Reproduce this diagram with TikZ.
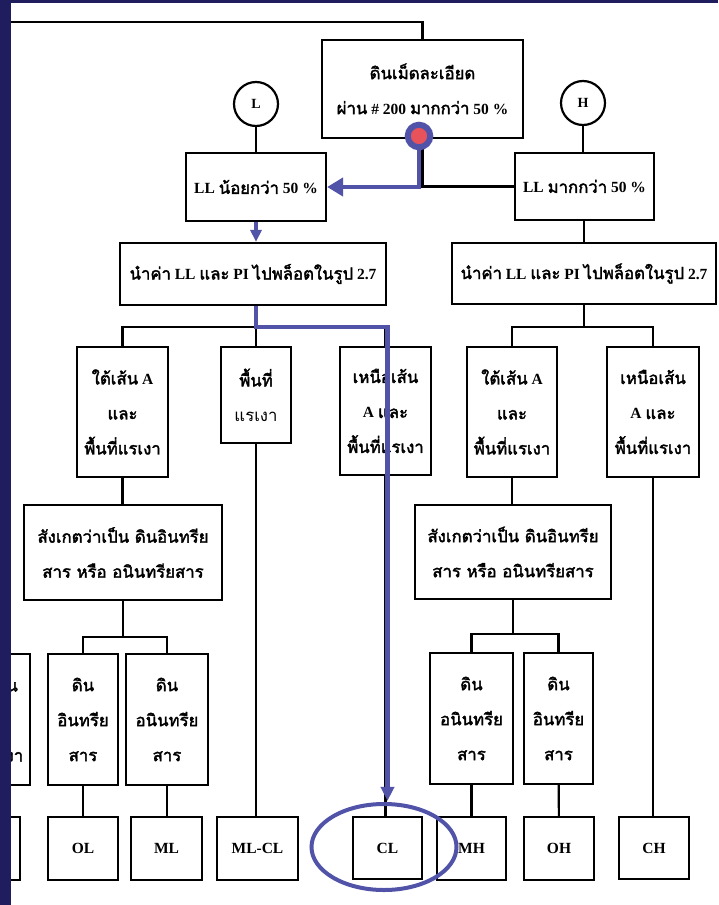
\documentclass[tikz,border=0pt]{standalone}
\usepackage{fontspec}
\setmainfont{Liberation Serif}
\newfontfamily\thaifont[Script=Thai,Scale=1.08,BoldFont=Loma,BoldFeatures={FakeBold=2.2}]{Loma}
\usetikzlibrary{arrows.meta,shapes.geometric}
\definecolor{FrameNavy}{HTML}{201D5E}
\definecolor{RouteBlue}{HTML}{5053A8}
\definecolor{PinRed}{HTML}{E8525A}
\newcommand{\thai}[1]{{\thaifont #1}}

\begin{document}
\begin{tikzpicture}[
    x=1pt,y=-1pt,
    font=\bfseries\fontsize{15.5}{35}\selectfont,
    box/.style={draw,line width=2.2pt,inner sep=0pt,align=center},
    tag/.style={draw,circle,line width=2.2pt,minimum size=44pt,inner sep=0pt,font=\bfseries\fontsize{14}{16}\selectfont},
    link/.style={line width=2.2pt},
    route/.style={draw=RouteBlue,line width=4.5pt},
    pin/.style={circle,fill=PinRed,draw=RouteBlue,line width=6pt,minimum size=22.5pt,inner sep=0pt},
    hit/.style={ellipse,draw=RouteBlue,line width=4pt,minimum width=145pt,minimum height=86pt}
  ]
  \useasboundingbox (0,0) rectangle (718,905);
  \fill[white] (0,0) rectangle (718,905);

  % fine grained split
  \node[box,minimum width=201pt,minimum height=98pt] (fine) at (422.5,89) {\thai{ดินเม็ดละเอียด}\\\thai{ผ่าน} \# 200 \thai{มากกว่า} 50 \%};
  \node[tag] (L) at (256,104) {L};
  \node[tag] (H) at (583,103) {H};
  \node[box,minimum width=140pt,minimum height=68pt] (lowLL) at (256,187) {LL \thai{น้อยกว่า} 50 \%};
  \node[box,minimum width=139pt,minimum height=67pt] (highLL) at (584.5,186.5) {LL \thai{มากกว่า} 50 \%};
  \node[box,minimum width=266pt,minimum height=62pt] (plotL) at (253,274) {\thai{นำค่า} LL \thai{และ} PI \thai{ไปพล็อตในรูป} 2.7};
  \node[box,minimum width=264pt,minimum height=61pt] (plotH) at (584,273.5) {\thai{นำค่า} LL \thai{และ} PI \thai{ไปพล็อตในรูป} 2.7};

  % chart zones
  \node[box,minimum width=91pt,minimum height=130pt] (belowL) at (122.5,412) {\thai{ใต้เส้น} A\\\thai{และ}\\\thai{พื้นที่แรเงา}};
  \node[box,minimum width=70pt,minimum height=96pt] (shadeL) at (256,395) {\thai{พื้นที่}\\{\mdseries\thai{แรเงา}}};
  \node[box,minimum width=91pt,minimum height=128pt] (aboveL) at (385.5,411) {\thai{เหนือเส้น}\\A \thai{และ}\\\thai{พื้นที่แรเงา}};
  \node[box,minimum width=90pt,minimum height=130pt] (belowH) at (512,412) {\thai{ใต้เส้น} A\\\thai{และ}\\\thai{พื้นที่แรเงา}};
  \node[box,minimum width=92pt,minimum height=130pt] (aboveH) at (653,412) {\thai{เหนือเส้น}\\A \thai{และ}\\\thai{พื้นที่แรเงา}};

  \node[box,minimum width=198pt,minimum height=95pt] (checkL) at (123,552.5) {\thai{สังเกตว่าเป็น ดินอินทรีย}\\\thai{สาร หรือ อนินทรียสาร}};
  \node[box,minimum width=196pt,minimum height=94pt] (checkH) at (513,552) {\thai{สังเกตว่าเป็น ดินอินทรีย}\\\thai{สาร หรือ อนินทรียสาร}};

  \node[box,minimum width=90pt,minimum height=131pt] (edgeUp) at (-15,719.5) {\thai{เหนือเส้น}\\A \thai{และ}\\\thai{พื้นที่แรเงา}};
  \node[box,minimum width=70pt,minimum height=131pt] (orgL) at (83,719.5) {\thai{ดิน}\\\thai{อินทรีย}\\\thai{สาร}};
  \node[box,minimum width=82pt,minimum height=131pt] (inorgL) at (167,719.5) {\thai{ดิน}\\\thai{อนินทรีย}\\\thai{สาร}};
  \node[box,minimum width=83pt,minimum height=131pt] (inorgH) at (471.5,718.5) {\thai{ดิน}\\\thai{อนินทรีย}\\\thai{สาร}};
  \node[box,minimum width=69pt,minimum height=131pt] (orgH) at (558.5,718.5) {\thai{ดิน}\\\thai{อินทรีย}\\\thai{สาร}};

  % soil groups
  \node[box,minimum width=70pt,minimum height=63pt] (edgeDown) at (-15,848.5) {};
  \node[box,minimum width=70pt,minimum height=63pt] (OL) at (83,848.5) {OL};
  \node[box,minimum width=71pt,minimum height=63pt] (ML) at (166.5,848.5) {ML};
  \node[box,minimum width=81pt,minimum height=63pt] (MLCL) at (257.5,848.5) {ML-CL};
  \node[box,minimum width=69pt,minimum height=62pt] (CL) at (387.5,848) {CL};
  \node[box,minimum width=69pt,minimum height=63pt] (MH) at (471.5,848.5) {MH};
  \node[box,minimum width=70pt,minimum height=63pt] (OH) at (559,848.5) {OH};
  \node[box,minimum width=70pt,minimum height=62pt] (CH) at (654,848) {CH};

  \coordinate (entry) at (0,22);
  \coordinate (busL) at (256,327);
  \coordinate (busH) at (584,327);
  \coordinate (splitL) at (123,637);
  \coordinate (splitH) at (513,634);
  \coordinate (CLtip) at ([yshift=15pt]CL.north);

  \draw[link] (entry) -| (fine.north);
  \draw[link] (L) -- (lowLL);
  \draw[link] (H) -- (H |- highLL.north);
  \draw[link] (fine.south) |- (highLL.west);
  \draw[link] (busH |- highLL.south) -- (busH |- plotH.north);
  \draw[link] (plotL.south -| busL) -- (busL);
  \draw[link] (belowL.north) |- (busL) -| (aboveL.north);
  \draw[link] (busL) -- (shadeL.north);
  \draw[link] (plotH.south) -- (busH);
  \draw[link] (belowH.north) |- (busH) -| (aboveH.north);
  \draw[link] (belowL.south) -- (belowL.south |- checkL.north);
  \draw[link] (belowH.south) -- (belowH.south |- checkH.north);
  \draw[link] (checkL.south) -- (splitL);
  \draw[link] (orgL.north) |- (splitL) -| (inorgL.north);
  \draw[link] (checkH.south) -- (splitH);
  \draw[link] (inorgH.north) |- (splitH) -| (orgH.north);
  \draw[link] (orgL) -- (OL);
  \draw[link] (inorgL.south) -- (inorgL.south |- ML.north);
  \draw[link] (shadeL.south) -- (shadeL.south |- MLCL.north);
  \draw[link] (aboveL.south) -- (aboveL.south |- CL.north);
  \draw[link] (inorgH) -- (MH);
  \draw[link] (orgH) -- (OH);
  \draw[link] (aboveH.south) -- (aboveH.south |- CH.north);

  % highlighted route
  \draw[route,-{Triangle[length=16pt,width=18pt]}] (419,150) |- (lowLL.east);
  \draw[route,-{Triangle[length=12pt,width=11pt]}] (lowLL.south) -- (lowLL.south |- plotL.north);
  \draw[route,-{Triangle[length=14pt,width=13pt]}] (plotL.south -| busL) -- (busL) -| (CLtip);
  \node[pin] (start) at (419,136) {};
  \node[hit] (ring) at (384,847) {};

  \fill[FrameNavy] (0,0) rectangle (11,905);
  \fill[FrameNavy] (0,0) rectangle (718,3);
\end{tikzpicture}
\end{document}
